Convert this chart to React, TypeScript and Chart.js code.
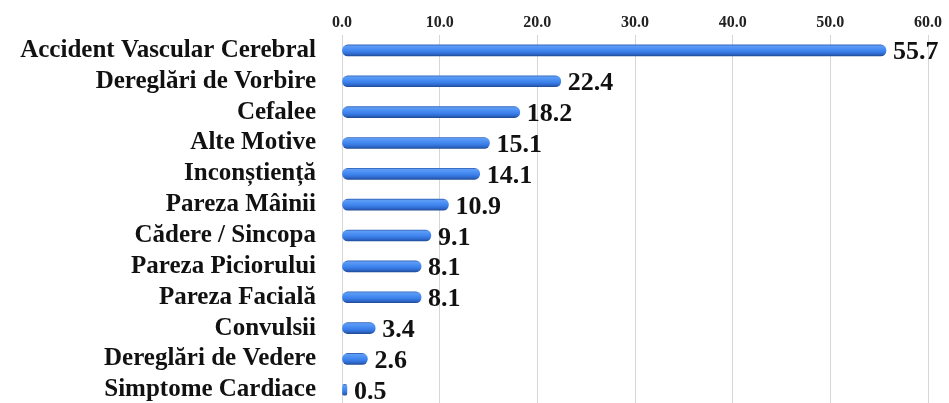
import React, { useEffect, useRef } from "react";
import { Chart, registerables } from "chart.js";

Chart.register(...registerables);

const categories: string[] = [
  "Accident Vascular Cerebral",
  "Dereglări de Vorbire",
  "Cefalee",
  "Alte Motive",
  "Inconștiență",
  "Pareza Mâinii",
  "Cădere / Sincopa",
  "Pareza Piciorului",
  "Pareza Facială",
  "Convulsii",
  "Dereglări de Vedere",
  "Simptome Cardiace",
];

const values: number[] = [55.7, 22.4, 18.2, 15.1, 14.1, 10.9, 9.1, 8.1, 8.1, 3.4, 2.6, 0.5];

const axisMin = 0;
const axisMax = 60;
const axisStep = 10;

const FONT = '"Liberation Serif", "Times New Roman", serif';

const valueLabelPlugin = {
  id: "valueLabels",
  afterDatasetsDraw(chart: any) {
    const { ctx } = chart;
    const meta = chart.getDatasetMeta(0);
    ctx.save();
    ctx.font = `bold 26px ${FONT}`;
    ctx.fillStyle = "#111111";
    ctx.textAlign = "left";
    ctx.textBaseline = "alphabetic";
    meta.data.forEach((bar: any, i: number) => {
      const v = values[i];
      ctx.fillText(v.toFixed(1), bar.x + 7, bar.y + 9);
    });
    ctx.restore();
  },
};

function barGradient(c: any) {
  const chart = c.chart;
  if (c.dataIndex === undefined || !chart.chartArea || !chart.scales.y) return "#3d80ea";
  const y = chart.scales.y.getPixelForValue(c.dataIndex);
  const g = chart.ctx.createLinearGradient(0, y - 5.5, 0, y + 5.5);
  g.addColorStop(0, "#3366bb");
  g.addColorStop(0.1, "#5e9df6");
  g.addColorStop(0.35, "#4b8ff3");
  g.addColorStop(0.6, "#3b80ea");
  g.addColorStop(0.85, "#2d66c8");
  g.addColorStop(1, "#214d98");
  return g;
}

export default function App() {
  const canvasRef = useRef<HTMLCanvasElement | null>(null);

  useEffect(() => {
    document.body.style.margin = "0";
    const canvas = canvasRef.current;
    if (!canvas) return;
    const chart = new Chart(canvas, {
      type: "bar",
      data: {
        labels: categories,
        datasets: [
          {
            data: values,
            backgroundColor: barGradient,
            borderWidth: 0,
            borderRadius: 5.5,
            borderSkipped: false,
            barThickness: 11,
          },
        ],
      },
      options: {
        indexAxis: "y",
        animation: false,
        responsive: false,
        maintainAspectRatio: false,
        devicePixelRatio: 1,
        layout: { padding: { left: 0, right: 21, top: 0, bottom: 0.8 } },
        plugins: {
          legend: { display: false },
          tooltip: { enabled: false },
        },
        scales: {
          x: {
            position: "top",
            min: axisMin,
            max: axisMax,
            ticks: {
              stepSize: axisStep,
              callback: (v: any) => Number(v).toFixed(1),
              font: { family: FONT, size: 16, weight: "bold" },
              color: "#222222",
              padding: 3,
            },
            grid: { color: "#d6d6d6", lineWidth: 1, drawTicks: false },
            border: { display: false },
            afterFit: (scale: any) => {
              scale.height = 35;
            },
          },
          y: {
            ticks: {
              font: { family: FONT, size: 25, weight: "bold" },
              color: "#111111",
              padding: 26,
              autoSkip: false,
            },
            grid: { display: false, drawTicks: false },
            border: { display: true, color: "#d6d6d6" },
            afterFit: (scale: any) => {
              scale.width = 342;
              scale.paddingTop = 0;
              scale.paddingBottom = 0;
            },
          },
        },
      },
      plugins: [valueLabelPlugin],
    });
    return () => chart.destroy();
  }, []);

  return (
    <div style={{ position: "fixed", left: 0, top: 0, width: 949, height: 403, overflow: "hidden", background: "#ffffff" }}>
      <canvas ref={canvasRef} width={949} height={406} style={{ display: "block", width: 949, height: 406 }} />
    </div>
  );
}
